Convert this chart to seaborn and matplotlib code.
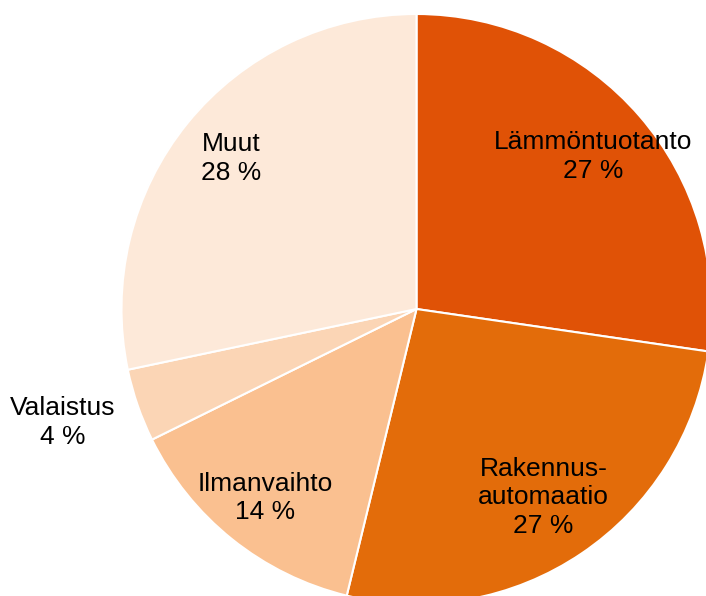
import matplotlib
matplotlib.use("Agg")
import matplotlib.pyplot as plt
import seaborn as sns
import numpy as np

categories = ["Lämmöntuotanto", "Rakennus-\nautomaatio", "Ilmanvaihto", "Valaistus", "Muut"]
shares = [27.3, 26.5, 13.9, 4.0, 28.3]
shown_pct = [27, 27, 14, 4, 28]
colors = ["#E05206", "#E36C0A", "#FAC090", "#FBD5B5", "#FDE9D9"]
# label placement: distance from centre and a small angle nudge (degrees)
label_dist = [0.79, 0.77, 0.82, 1.26, 0.81]
label_nudge = [0, 0, 0, -1.3, 0]

sns.set_style("white")
plt.rcParams['font.family'] = ['Liberation Sans', 'DejaVu Sans']

fig = plt.figure(figsize=(7.06, 5.96), dpi=100)
ax = fig.add_axes([0, 0, 1, 1])

wedges, _ = ax.pie(shares, colors=colors, startangle=90, counterclock=False,
                   radius=1.0, wedgeprops=dict(edgecolor="white", linewidth=1.5))

for w, cat, val, d, nud in zip(wedges, categories, shown_pct, label_dist, label_nudge):
    mid = np.deg2rad((w.theta1 + w.theta2) / 2 + nud)
    ax.text(d * np.cos(mid), d * np.sin(mid), f"{cat}\n{val} %",
            ha="center", va="center", fontsize=19, linespacing=1.23, color="black")

# pie centre sits at pixel (416.5, 309), radius 295 px
cx, cy, r = 416.5, 309, 295
ax.set_xlim(-cx / r, (706 - cx) / r)
ax.set_ylim(-(596 - cy) / r, cy / r)
ax.set_aspect("equal")
ax.axis("off")

fig.savefig("out.png", dpi=100)
plt.close(fig)
